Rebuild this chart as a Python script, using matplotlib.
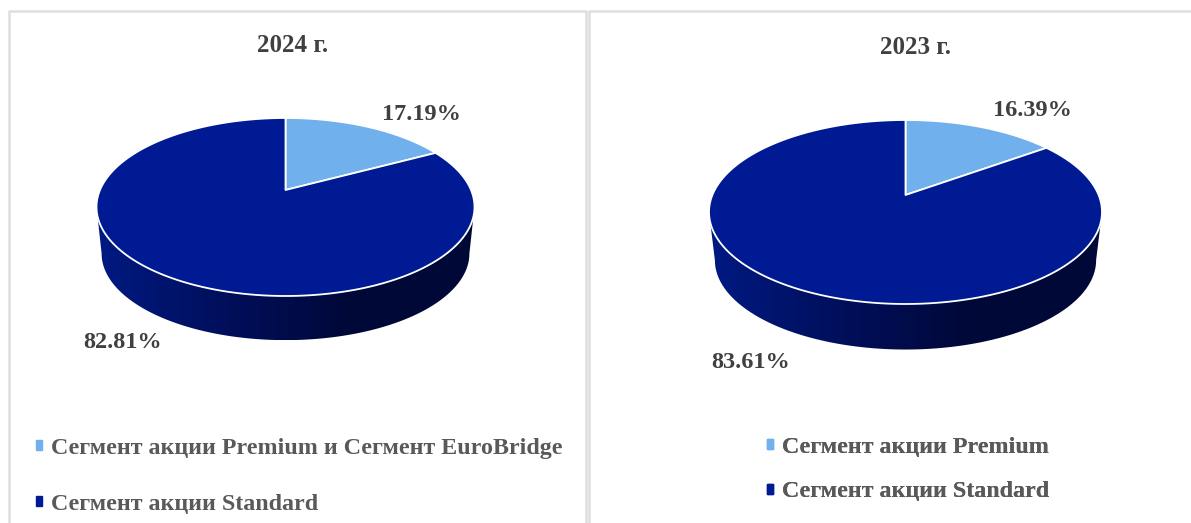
import numpy as np
import matplotlib
matplotlib.use('Agg')
import matplotlib.pyplot as plt
from matplotlib.patches import Polygon, Patch
from matplotlib.colors import LinearSegmentedColormap

plt.rcParams['font.family'] = ['Liberation Serif', 'DejaVu Serif']

years = ['2024 г.', '2023 г.']
shares_2024 = [17.19, 82.81]
shares_2023 = [16.39, 83.61]
# the 2023 slice is drawn narrower than its label says
drawn_2023 = [15.0, 85.0]
labels_2024 = ['Сегмент акции Premium и Сегмент EuroBridge', 'Сегмент акции Standard']
labels_2023 = ['Сегмент акции Premium', 'Сегмент акции Standard']

LIGHT = '#70B0EC'
DARK = '#001A93'
TEXT = '#404040'
LEGEND_TEXT = '#595959'
BORDER = '#DEDEDE'
side_cmap = LinearSegmentedColormap.from_list('side', ['#001A82', '#000F5C', '#000838', '#000838'])

fig = plt.figure(figsize=(11.91, 5.23), dpi=100)
ax = fig.add_axes([0, 0, 1, 1])


def rim(theta, cx, cy, hw, up, down, scale=1.0):
    # circle seen in perspective, theta clockwise from the top
    k = (down - up) / (down + up)
    s = up * (1 + k)
    r = hw * np.sqrt(1 - k ** 2)
    w = 1 + k * np.cos(theta)
    return np.column_stack([cx + scale * r * np.sin(theta) / w, cy - scale * s * np.cos(theta) / w])


def draw_pie(shares, cx, cy, hw, up, down, side_cy, side_scale):
    k = (down - up) / (down + up)
    tr = np.arccos(-k)
    front = np.linspace(tr, 2 * np.pi - tr, 200)

    # side wall with the gradient
    side = np.vstack([rim(front, cx, cy, hw, up, down),
                      rim(front[::-1], cx, side_cy, hw, up, down, side_scale)])
    grad = np.linspace(0, 1, 256).reshape(1, -1)
    im = ax.imshow(grad, cmap=side_cmap, aspect='auto', zorder=1,
                   extent=(cx - hw, cx + hw, side[:, 1].max(), cy - up))
    clip = Polygon(side, transform=ax.transData, fc='none', ec='none')
    ax.add_patch(clip)
    im.set_clip_path(clip)

    # top of the pie
    ends = np.cumsum(shares) / sum(shares) * 2 * np.pi
    starts = np.r_[0, ends[:-1]]
    for a, b, c in zip(starts, ends, [LIGHT, DARK]):
        t = np.linspace(a, b, 200)
        pts = np.vstack([[cx, cy], rim(t, cx, cy, hw, up, down)])
        ax.add_patch(Polygon(pts, closed=True, fc=c, ec='white', lw=1.3, zorder=2, joinstyle='round'))


def draw_legend(labels, x, y, spacing):
    handles = [Patch(color=LIGHT), Patch(color=DARK)]
    leg = ax.legend(handles, labels, loc='upper left', bbox_to_anchor=(x, y), bbox_transform=ax.transData,
                    frameon=False, borderaxespad=0, borderpad=0, handlelength=0.27, handleheight=0.27,
                    handletextpad=0.35, labelspacing=spacing,
                    prop={'size': 17.25, 'weight': 'bold'}, labelcolor=LEGEND_TEXT)
    ax.add_artist(leg)


# panels
for x0, x1, y0, y1 in [(8.5, 586, 11, 540), (589, 1230, 11, 540)]:
    ax.plot([x0, x0, x1, x1], [y1, y0, y0, y1], color=BORDER, lw=1.8, zorder=0)

draw_pie(shares_2024, 285.5, 190, 189, 72, 106, 237, 0.973)
draw_pie(drawn_2023, 905.5, 195, 196.5, 75, 109, 243.8, 0.97)

ax.text(292.5, 45, years[0], ha='center', va='center', fontsize=18, fontweight='bold', color=TEXT)
ax.text(915, 48, years[1], ha='center', va='center', fontsize=18, fontweight='bold', color=TEXT)

ax.text(421, 115, f'{shares_2024[0]:.2f}%', ha='center', va='center', fontsize=17.5, fontweight='bold', color=TEXT)
ax.text(122.5, 343, f'{shares_2024[1]:.2f}%', ha='center', va='center', fontsize=17.5, fontweight='bold', color=TEXT)
ax.text(1032.5, 111, f'{shares_2023[0]:.2f}%', ha='center', va='center', fontsize=17.5, fontweight='bold', color=TEXT)
ax.text(750.5, 362, f'{shares_2023[1]:.2f}%', ha='center', va='center', fontsize=17.5, fontweight='bold', color=TEXT)

draw_legend(labels_2024, 36, 438, 1.44)
draw_legend(labels_2023, 767, 437, 0.98)

ax.set_xlim(0, 1191)
ax.set_ylim(523, 0)
ax.axis('off')

fig.savefig('out.png', dpi=100)
